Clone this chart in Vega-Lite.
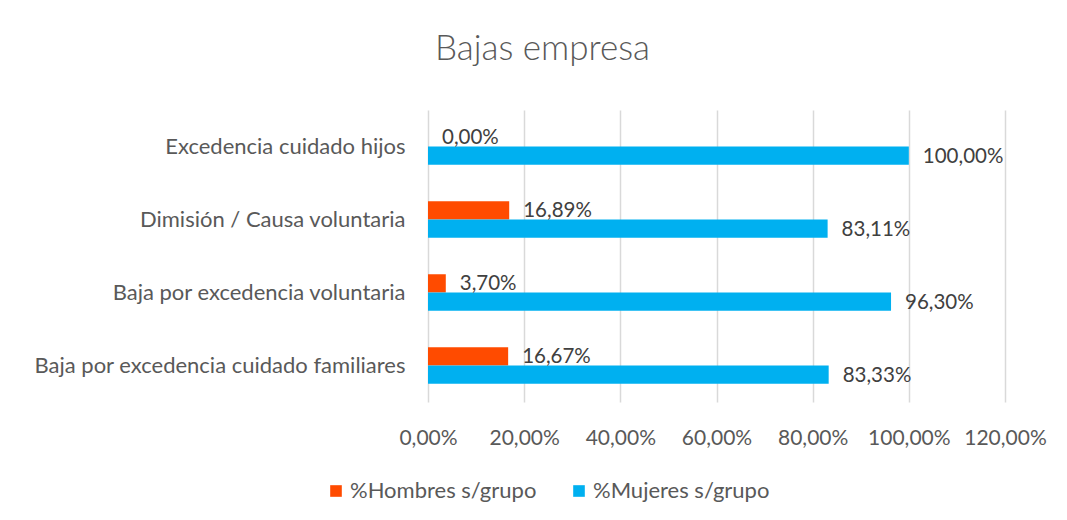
{
  "$schema": "https://vega.github.io/schema/vega-lite/v6.json",
  "width": 577,
  "height": 292,
  "autosize": {"type": "none"},
  "padding": {"left": 428, "top": 110, "right": 62, "bottom": 118},
  "background": "white",
  "config": {
    "locale": {"number": {"decimal": ",", "thousands": ".", "grouping": [3], "currency": ["", " €"]}},
    "font": "Lato",
    "view": {"stroke": null}
  },
  "title": {
    "text": "Bajas empresa",
    "font": "Lato",
    "fontSize": 35,
    "fontWeight": 300,
    "color": "#595959",
    "anchor": "middle",
    "dx": -174,
    "baseline": "alphabetic",
    "offset": 15
  },
  "data": {
    "values": [
      {"categoria": "Excedencia cuidado hijos", "serie": "%Hombres s/grupo", "valor": 0.0},
      {"categoria": "Excedencia cuidado hijos", "serie": "%Mujeres s/grupo", "valor": 1.0},
      {"categoria": "Dimisión / Causa voluntaria", "serie": "%Hombres s/grupo", "valor": 0.1689},
      {"categoria": "Dimisión / Causa voluntaria", "serie": "%Mujeres s/grupo", "valor": 0.8311},
      {"categoria": "Baja por excedencia voluntaria", "serie": "%Hombres s/grupo", "valor": 0.037},
      {"categoria": "Baja por excedencia voluntaria", "serie": "%Mujeres s/grupo", "valor": 0.963},
      {"categoria": "Baja por excedencia cuidado familiares", "serie": "%Hombres s/grupo", "valor": 0.1667},
      {"categoria": "Baja por excedencia cuidado familiares", "serie": "%Mujeres s/grupo", "valor": 0.8333}
    ]
  },
  "encoding": {
    "y": {
      "field": "categoria",
      "type": "nominal",
      "sort": null,
      "title": null,
      "scale": {"paddingInner": 0.5, "paddingOuter": 0.25},
      "axis": {
        "domain": false,
        "ticks": false,
        "labelPadding": 23,
        "labelFontSize": 22,
        "labelColor": "#595959",
        "labelFont": "Lato",
        "labelLimit": 500
      }
    },
    "yOffset": {
      "field": "serie",
      "type": "nominal",
      "sort": ["%Hombres s/grupo", "%Mujeres s/grupo"],
      "scale": {"paddingInner": 0, "paddingOuter": 0}
    },
    "x": {
      "field": "valor",
      "type": "quantitative",
      "title": null,
      "scale": {"domain": [0, 1.2], "nice": false},
      "axis": {
        "values": [0, 0.2, 0.4, 0.6, 0.8, 1.0, 1.2],
        "format": ".2%",
        "domain": false,
        "ticks": false,
        "grid": true,
        "gridColor": "#d9d9d9",
        "gridWidth": 1.5,
        "labelPadding": 25,
        "labelFontSize": 21,
        "labelColor": "#595959",
        "labelFont": "Lato",
        "labelFlush": false
      }
    }
  },
  "layer": [
    {
      "mark": {"type": "bar"},
      "encoding": {
        "color": {
          "field": "serie",
          "type": "nominal",
          "scale": {"domain": ["%Hombres s/grupo", "%Mujeres s/grupo"], "range": ["#FF4B00", "#00B0F0"]},
          "legend": {
            "title": null,
            "orient": "none",
            "direction": "horizontal",
            "legendX": -103,
            "legendY": 370,
            "symbolType": "square",
            "symbolSize": 135,
            "symbolStrokeWidth": 0,
            "labelFontSize": 22,
            "labelColor": "#595959",
            "labelFont": "Lato",
            "labelOffset": 3,
            "columnPadding": 31,
            "labelLimit": 400
          }
        }
      }
    },
    {
      "mark": {"type": "text", "align": "left", "baseline": "middle", "dx": 14, "dy": 1, "fontSize": 20.5, "color": "#404040", "font": "Lato"},
      "encoding": {
        "text": {"field": "valor", "type": "quantitative", "format": ".2%"}
      }
    }
  ]
}
